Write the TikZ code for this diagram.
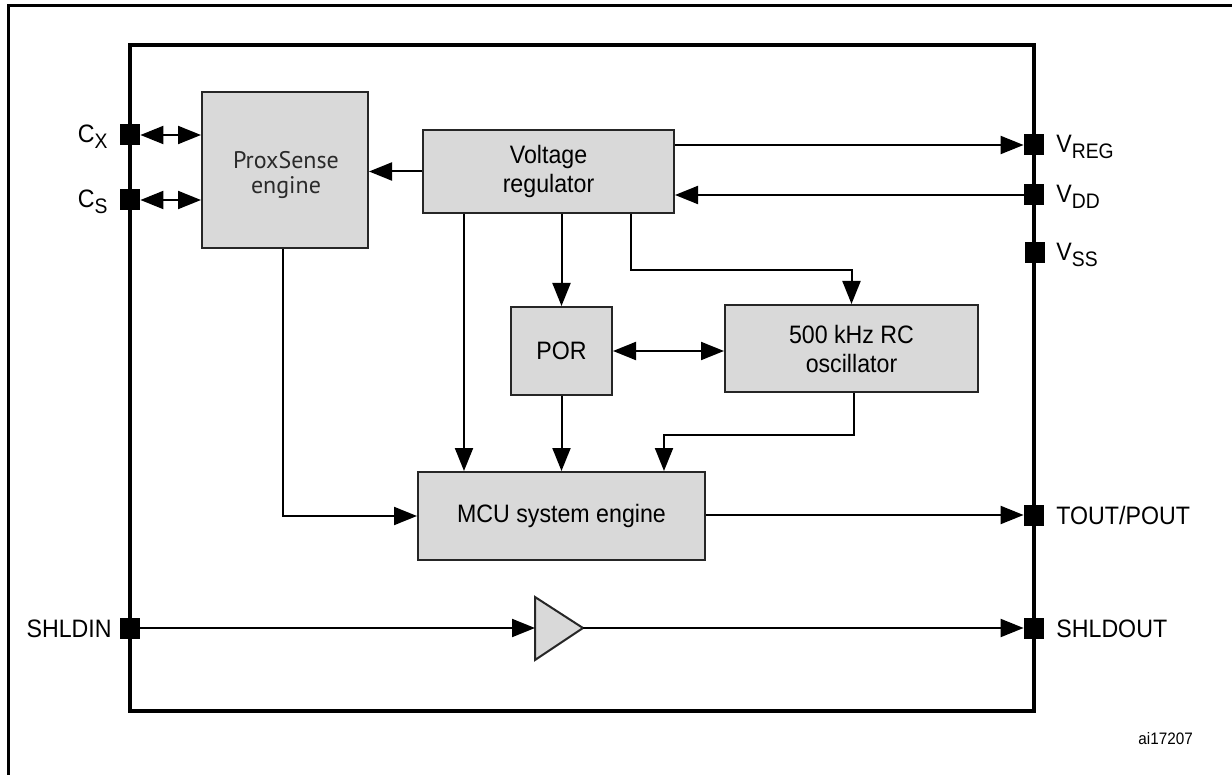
\documentclass[tikz,border=0pt]{standalone}
\usepackage{fontspec}
\setmainfont{Liberation Sans}[FakeStretch=0.92]
\newfontfamily\psfont{PT Sans}
\usetikzlibrary{arrows.meta}
\definecolor{boxgray}{HTML}{D9D9D9}
\definecolor{edgegray}{HTML}{262626}
\definecolor{pstext}{HTML}{2A2A2A}
\newcommand\pinsub[1]{\raisebox{-3pt}{\fontsize{10.5}{12}\selectfont #1}}
\begin{document}
\begin{tikzpicture}[x=0.5pt,y=-0.5pt,
  blk/.style={draw=edgegray, fill=boxgray, line width=1pt, inner sep=0pt, align=center, font=\fontsize{12.6}{14.5}\selectfont},
  pin/.style={fill=black, draw=none, minimum width=10pt, minimum height=10.5pt, inner sep=0pt},
  tip/.tip={Triangle[length=11.5pt,width=9pt]},
  arr/.style={line width=1pt, -tip},
  dbl/.style={line width=1pt, tip-tip},
  lbl/.style={inner sep=0pt, font=\fontsize{12.6}{14}\selectfont},
  ]
\useasboundingbox (0,0) rectangle (1232,775);
% outer frame (partially visible)
\draw[line width=1.5pt] (1240,6) -- (8,6) -- (8,790);
% inner frame
\draw[line width=1.6pt] (130,45) rectangle (1034,711);

% blocks
\node[blk, minimum width=83pt, minimum height=78pt] (PS) at (285,170) {};
\node[inner sep=0pt, align=center, font=\psfont\fontsize{12}{12.5}\selectfont, text=pstext] (PStext) at (286,175) {ProxSense\\engine};
\node[blk, minimum width=125.5pt, minimum height=41.5pt] (VR) at (548.5,171.5) {Voltage\\regulator};
\node[blk, minimum width=50.5pt, minimum height=44pt] (POR) at (561.5,351) {POR};
\node[blk, minimum width=126.5pt, minimum height=43.5pt] (OSC) at (851.5,348.5) {500 kHz RC\\oscillator};
\node[blk, minimum width=143.5pt, minimum height=44pt] (MCU) at (561.5,516) {MCU system engine};

% buffer
\draw[draw=edgegray, fill=boxgray, line width=1pt] (535,597) -- (583,628) -- (535,660) -- cycle;
\coordinate (bufL) at (535,628);
\coordinate (bufR) at (583,628);

% pins
\node[pin] (pinCX) at (130,135) {};
\node[pin] (pinCS) at (130,200) {};
\node[pin] (pinSHLDIN) at (130,628) {};
\node[pin] (pinVREG) at (1034,145) {};
\node[pin] (pinVDD) at (1034,195) {};
\node[pin] (pinVSS) at (1035,253) {};
\node[pin] (pinTOUT) at (1034,515) {};
\node[pin] (pinSHLDOUT) at (1034,628) {};

% pin labels
\node[lbl, anchor=base east] (lCX) at (108,143) {C\pinsub{X}};
\node[lbl, anchor=base east] (lCS) at (108,208) {C\pinsub{S}};
\node[lbl, anchor=base east] (lSHLDIN) at (112,637) {SHLDIN};
\node[lbl, anchor=base west] (lVREG) at (1056,153) {V\pinsub{REG}};
\node[lbl, anchor=base west] (lVDD) at (1056,203) {V\pinsub{DD}};
\node[lbl, anchor=base west] (lVSS) at (1056,261) {V\pinsub{SS}};
\node[lbl, anchor=base west] (lTOUT) at (1056,524) {TOUT/POUT};
\node[lbl, anchor=base west] (lSHLDOUT) at (1056,637) {SHLDOUT};
\node[inner sep=0pt, anchor=base west, font=\fontsize{8.3}{10}\selectfont] (ref) at (1138,744) {ai17207};

% connectors
\draw[dbl] (pinCX.east) -- (PS.west |- pinCX);
\draw[dbl] (pinCS.east) -- (PS.west |- pinCS);
\draw[arr] (VR.west) -- (PS.east |- VR.west);
\draw[arr] (VR.east |- pinVREG) -- (pinVREG.west);
\draw[arr] (pinVDD.west) -- (VR.east |- pinVDD);
\draw[arr] (464,0 |- VR.south) -- (464,0 |- MCU.north);
\draw[arr] (VR.south -| POR.north) -- (POR.north);
\draw[arr] (631,0 |- VR.south) |- (OSC.north |- 0,270) -- (OSC.north);
\draw[dbl] (POR.east) -- (OSC.west |- POR.east);
\draw[arr] (POR.south) -- (POR.south |- MCU.north);
\draw[arr] (854,0 |- OSC.south) |- (664,435) -- (664,0 |- MCU.north);
\draw[arr] (283,0 |- PS.south) |- (MCU.west);
\draw[arr] (MCU.east |- pinTOUT) -- (pinTOUT.west);
\draw[arr] (pinSHLDIN.east) -- (bufL);
\draw[arr] (bufR) -- (pinSHLDOUT.west);
\end{tikzpicture}
\end{document}
